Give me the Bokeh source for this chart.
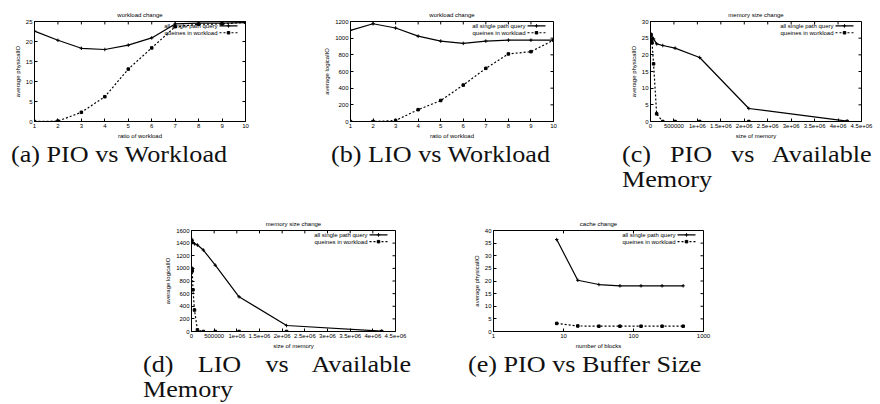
from bokeh.plotting import figure
from bokeh.layouts import column, row
from bokeh.models import Range1d, FixedTicker, LinearScale, Div, Spacer
from bokeh.core.properties import value
from bokeh.embed import file_html
from bokeh.resources import INLINE

# ---------------- data ----------------
workload_ratio = [1, 2, 3, 4, 5, 6, 7, 8, 9, 10]
pio_all = [22.6, 20.3, 18.3, 18.0, 19.1, 20.9, 24.4, 24.6, 24.6, 24.7]
pio_wl = [0.0, 0.1, 2.3, 6.2, 13.1, 18.4, 23.7, 24.3, 24.4, 24.8]
lio_all = [1094, 1173, 1122, 1024, 965, 937, 965, 976, 976, 976]
lio_wl = [0, 0, 12, 142, 252, 437, 638, 811, 838, 976]

memory_size = [8192, 16384, 32768, 65536, 131072, 262144, 524288, 1048576, 2097152, 4194304]
mem_pio_all = [26.3, 26.0, 25.3, 24.8, 23.3, 22.8, 22.0, 19.2, 3.9, 0.1]
mem_pio_wl = [26.0, 24.3, 23.6, 17.3, 2.3, 0.0, 0.0, 0.0, 0.0, 0.0]
mem_lio_all = [1460, 1440, 1410, 1390, 1370, 1290, 1050, 550, 95, 5]
mem_lio_wl = [1000, 960, 660, 340, 25, 0, 0, 0, 0, 0]

blocks = [8, 16, 32, 64, 128, 256, 512]
cache_pio_all = [36.4, 20.3, 18.6, 18.1, 18.1, 18.1, 18.1]
cache_pio_wl = [3.2, 2.2, 2.1, 2.1, 2.1, 2.1, 2.1]

series_names = ["all single path query", "queines in workload"]
workload_ticks = [1, 2, 3, 4, 5, 6, 7, 8, 9, 10]
mem_ticks = [0, 500000, 1000000, 1500000, 2000000, 2500000, 3000000, 3500000, 4000000, 4500000]
mem_tick_labels = ["0", "500000", "1e+06", "1.5e+06", "2e+06", "2.5e+06", "3e+06", "3.5e+06", "4e+06", "4.5e+06"]
block_ticks = [1, 10, 100, 1000]
block_tick_labels = ["1", "10", "100", "1000"]
captions = ["(a) PIO vs Workload", "(b) LIO vs Workload", "(c) PIO vs Available", "Memory",
            "(d) LIO vs Available", "Memory", "(e) PIO vs Buffer Size"]

SANS = "Liberation Sans"
FS = "6px"
TICK = 3
DASH = "2 2"


def style_axis(ax, ticks, labels=None):
    ax.ticker = FixedTicker(ticks=ticks)
    ax.major_tick_in = TICK
    ax.major_tick_out = 0
    ax.minor_tick_line_color = None
    ax.axis_line_color = "black"
    ax.major_tick_line_color = "black"
    ax.major_label_text_font = SANS
    ax.major_label_text_color = "black"
    ax.major_label_text_font_size = FS
    ax.major_label_standoff = 2
    ax.axis_label_text_font = SANS
    ax.axis_label_text_font_size = FS
    ax.axis_label_text_font_style = "normal"
    ax.axis_label_text_color = "black"
    ax.axis_label_standoff = 2
    if labels is not None:
        ax.major_label_overrides = {t: l for t, l in zip(ticks, labels)}


def make_fig(title, xlabel, ylabel, x, ys, xr, yr, xticks, yticks, width, height,
             bl, br, bt, bb, xlabels=None, x_log=False):
    p = figure(width=width, height=height, output_backend="svg", toolbar_location=None,
               x_range=Range1d(*xr), y_range=Range1d(*yr),
               x_axis_type="log" if x_log else "linear",
               min_border_left=bl, min_border_right=br, min_border_top=bt, min_border_bottom=bb)
    p.title.text = title
    p.title.text_font = SANS
    p.title.text_font_size = FS
    p.title.text_font_style = "normal"
    p.title.text_color = "black"
    p.title.align = "center"
    p.title.vertical_align = "middle"
    p.title.standoff = 6
    p.grid.visible = False
    p.outline_line_color = "black"
    p.outline_line_width = 1
    p.background_fill_color = "white"
    p.border_fill_color = "white"

    style_axis(p.xaxis[0], xticks, xlabels)
    style_axis(p.yaxis[0], yticks)
    p.xaxis[0].axis_label = xlabel
    p.yaxis[0].axis_label = ylabel

    fw = width - bl - br
    fh = height - bt - bb
    # frame-fraction coordinates for the mirrored ticks and the key
    p.extra_x_ranges = {"leg": Range1d(0, 1)}
    p.extra_y_ranges = {"leg": Range1d(0, 1)}
    p.extra_x_scales = {"leg": LinearScale()}
    p.extra_y_scales = {"leg": LinearScale()}

    # mirrored (inward) ticks on the top and right edges, gnuplot style
    p.segment(x0=xticks, y0=[1.0] * len(xticks), x1=xticks, y1=[1 - TICK / fh] * len(xticks),
              y_range_name="leg", line_color="black", line_width=1)
    p.segment(x0=[1.0] * len(yticks), y0=yticks, x1=[1 - TICK / fw] * len(yticks), y1=yticks,
              x_range_name="leg", line_color="black", line_width=1)

    # data series
    p.line(x, ys[0], line_color="black", line_width=1.2)
    p.scatter(x, ys[0], marker="cross", size=3.5, line_color="black", line_width=1)
    p.line(x, ys[1], line_color="black", line_width=1.2, line_dash=DASH)
    p.scatter(x, ys[1], marker="square", size=2.5, line_color="black", fill_color="black")

    # gnuplot-style key: text right-aligned, sample line on the right
    xt = 1 - 28.0 / fw
    x0 = 1 - 26.0 / fw
    x1 = 1 - 8.0 / fw
    yk = [1 - 4.5 / fh, 1 - 11.5 / fh]
    p.text(x=[xt, xt], y=yk, text=series_names, x_range_name="leg", y_range_name="leg",
           text_align="right", text_baseline="middle", text_font_size=FS,
           text_font=value(SANS), text_color="black")
    p.segment(x0=[x0], y0=[yk[0]], x1=[x1], y1=[yk[0]], x_range_name="leg", y_range_name="leg",
              line_color="black", line_width=1.2)
    p.segment(x0=[x0], y0=[yk[1]], x1=[x1], y1=[yk[1]], x_range_name="leg", y_range_name="leg",
              line_color="black", line_width=1.2, line_dash=DASH)
    p.scatter(x=[(x0 + x1) / 2], y=[yk[0]], marker="cross", size=3.5, line_color="black",
              x_range_name="leg", y_range_name="leg")
    p.scatter(x=[(x0 + x1) / 2], y=[yk[1]], marker="square", size=2.5, line_color="black",
              fill_color="black", x_range_name="leg", y_range_name="leg")
    return p


# row 1: frames at y 21..123
fa = make_fig("workload change", "ratio of workload", "average physicalIO",
              workload_ratio, [pio_all, pio_wl], (1, 10), (0, 25), workload_ticks,
              [0, 5, 10, 15, 20, 25], 300, 141, 34, 55, 21, 18)
fb = make_fig("workload change", "ratio of workload", "average logicalIO",
              workload_ratio, [lio_all, lio_wl], (1, 10), (0, 1200), workload_ticks,
              [0, 200, 400, 600, 800, 1000, 1200], 300, 141, 50, 47, 21, 18)
fc = make_fig("memory size change", "size of memory", "average physicalIO",
              memory_size, [mem_pio_all, mem_pio_wl], (0, 4500000), (0, 30), mem_ticks,
              [0, 5, 10, 15, 20, 25, 30], 280, 141, 50, 19, 21, 18, xlabels=mem_tick_labels)
# row 2: frames at y 229..333
fd = make_fig("memory size change", "size of memory", "average logicalIO",
              memory_size, [mem_lio_all, mem_lio_wl], (0, 4500000), (0, 1600), mem_ticks,
              [0, 200, 400, 600, 800, 1000, 1200, 1400, 1600], 300, 135, 50, 46, 13, 18,
              xlabels=mem_tick_labels)
fe = make_fig("cache change", "number of blocks", "average physicalIO",
              blocks, [cache_pio_all, cache_pio_wl], (1, 1000), (0, 40), block_ticks,
              [0, 5, 10, 15, 20, 25, 30, 35, 40], 292, 135, 52, 30, 13, 18,
              xlabels=block_tick_labels, x_log=True)

SX = 1.09
SERIF = "font-family:'Liberation Serif',serif;color:#111;white-space:nowrap;"


def cap_block(items, width, height, fs, lh):
    inner = ""
    for (txt, left, top, w) in items:
        if w:
            al = "width:%dpx;text-align:justify;text-align-last:justify;" % int(w / SX)
        else:
            al = "text-align:left;"
        inner += ('<div style="position:absolute;left:%dpx;top:%dpx;%s'
                  'transform:scaleX(%.2f);transform-origin:0 0;">%s</div>'
                  % (left, top, al, SX, txt))
    html = ('<div style="position:relative;width:%dpx;height:%dpx;overflow:hidden;%s'
            'font-size:%dpx;line-height:%dpx;">%s</div>' % (width, height, SERIF, fs, lh, inner))
    return Div(text=html, width=width, height=height, margin=(0, 0, 0, 0))


cap1 = cap_block([(captions[0], 11, 1, 0),
                  (captions[1], 331, 1, 0),
                  (captions[2], 622, 1, 250),
                  (captions[3], 622, 26, 0)], 880, 75, 24, 25)
cap2 = cap_block([(captions[4], 143, 1, 269),
                  (captions[5], 143, 26, 0),
                  (captions[6], 468, 1, 0)], 880, 53, 24, 25)

layout = column(row(fa, fb, fc), cap1, row(Spacer(width=141, height=135), fd, fe), cap2)

open("out.html", "w").write(file_html(layout, INLINE))
